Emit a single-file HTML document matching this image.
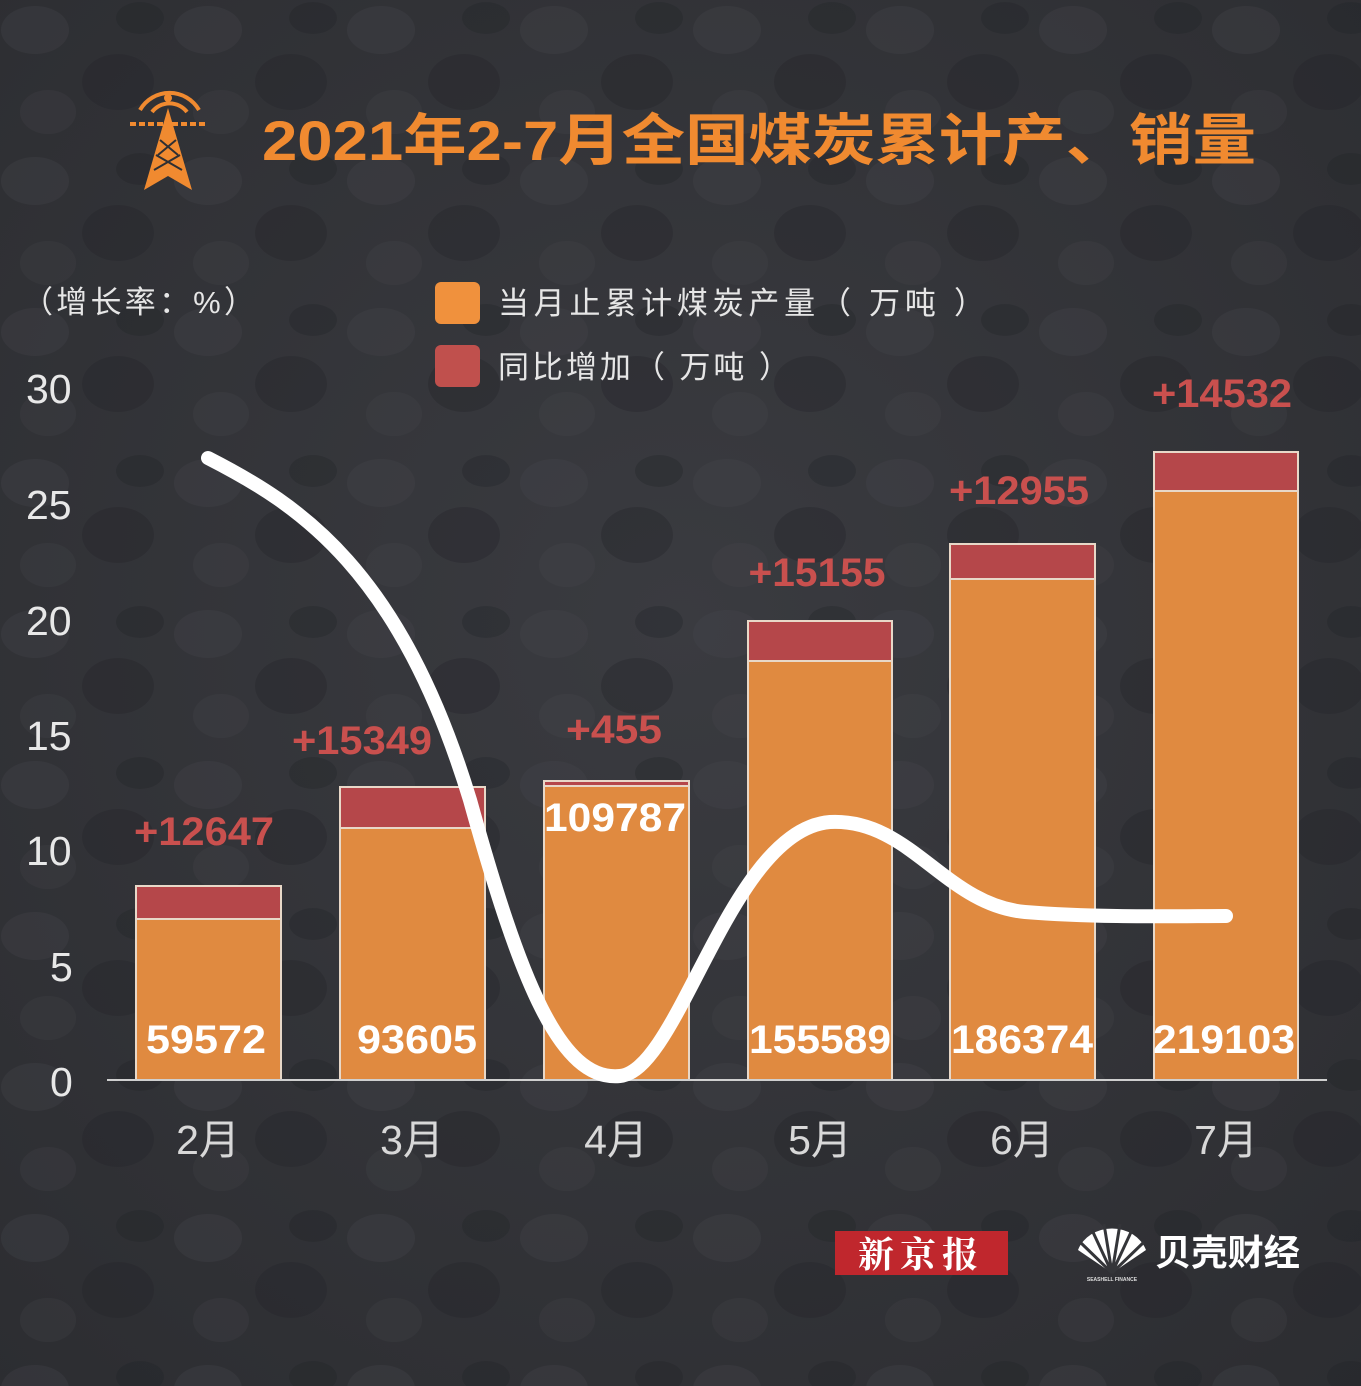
<!DOCTYPE html>
<html><head><meta charset="utf-8"><style>
html,body{margin:0;padding:0}
body{width:1361px;height:1386px;overflow:hidden;background:#343539}
svg{display:block}
</style></head><body>
<svg width="1361" height="1386" viewBox="0 0 1361 1386" xmlns="http://www.w3.org/2000/svg">
<defs>
<radialGradient id="bg" cx="50%" cy="45%" r="75%">
<stop offset="0" stop-color="#3a3b40"/><stop offset="1" stop-color="#2c2d31"/>
</radialGradient>
<pattern id="coal" width="173" height="151" patternUnits="userSpaceOnUse">
<ellipse cx="35" cy="30" rx="34" ry="24" fill="#45474c" opacity="0.3"/>
<ellipse cx="118" cy="82" rx="36" ry="28" fill="#222327" opacity="0.35"/>
<ellipse cx="48" cy="112" rx="28" ry="22" fill="#4a4c51" opacity="0.2"/>
<ellipse cx="140" cy="18" rx="24" ry="16" fill="#1f2024" opacity="0.3"/>
</pattern>
</defs>
<rect width="1361" height="1386" fill="url(#bg)"/>
<rect width="1361" height="1386" fill="url(#coal)"/>

<g fill="#f08a30" stroke="#f08a30">
<path d="M140 110 A34 34 0 0 1 199 110" fill="none" stroke-width="4"/>
<path d="M152 112 A22 22 0 0 1 187 112" fill="none" stroke-width="4"/>
<circle cx="168" cy="98" r="4" stroke="none"/>
<path d="M130 124 h35 M172 124 h35" stroke-width="4" stroke-dasharray="6 3"/>
<path d="M168 108 L144 190 L168 176 L192 190 Z" stroke="none"/>
</g>
<path d="M160 140 L178 155 M176 140 L158 155 M156 155 L182 170 M180 155 L154 170" stroke="#2e2f33" stroke-width="2"/>

<text x="262" y="160" font-family="Liberation Sans, Noto Sans CJK SC, sans-serif" font-size="56" font-weight="bold" fill="#f08a30" textLength="994" lengthAdjust="spacingAndGlyphs">2021年2-7月全国煤炭累计产、销量</text>

<g font-family="Liberation Sans, Noto Sans CJK SC, sans-serif" fill="#e6e6e6">
<text x="22" y="313" font-size="31" textLength="233" lengthAdjust="spacing">（增长率：%）</text>
<rect x="435" y="282" width="45" height="42" rx="6" fill="#f0913d"/>
<rect x="435" y="345" width="45" height="42" rx="6" fill="#c0504d"/>
<text x="498" y="314" font-size="31" textLength="487" lengthAdjust="spacing">当月止累计煤炭产量（ 万吨 ）</text>
<text x="498" y="378" font-size="31" textLength="292" lengthAdjust="spacing">同比增加（ 万吨 ）</text>
<g font-size="41" fill="#e8e8e8">
<text x="26" y="403">30</text><text x="26" y="519">25</text><text x="26" y="635">20</text>
<text x="26" y="750">15</text><text x="26" y="865">10</text><text x="50" y="981">5</text><text x="50" y="1096">0</text>
</g>
<g font-size="41" fill="#d8d8d8" text-anchor="middle">
<text x="208" y="1154">2月</text><text x="412" y="1154">3月</text><text x="616" y="1154">4月</text>
<text x="820" y="1154">5月</text><text x="1022" y="1154">6月</text><text x="1226" y="1154">7月</text>
</g>
</g>

<g stroke="#e8d8c8" stroke-width="2">
<rect x="136" y="886" width="145" height="194" fill="#e08a40"/>
<rect x="340" y="787" width="145" height="293" fill="#e08a40"/>
<rect x="544" y="781" width="145" height="299" fill="#e08a40"/>
<rect x="748" y="621" width="144" height="459" fill="#e08a40"/>
<rect x="950" y="544" width="145" height="536" fill="#e08a40"/>
<rect x="1154" y="452" width="144" height="628" fill="#e08a40"/>
</g>
<g fill="#b5474a" stroke="#e8d8c8" stroke-width="2">
<rect x="136" y="886" width="145" height="33"/>
<rect x="340" y="787" width="145" height="41"/>
<rect x="544" y="781" width="145" height="5"/>
<rect x="748" y="621" width="144" height="40"/>
<rect x="950" y="544" width="145" height="35"/>
<rect x="1154" y="452" width="144" height="39"/>
</g>
<line x1="107" y1="1080" x2="1327" y2="1080" stroke="#cfcfcf" stroke-width="2"/>

<path d="M208,458 C300,505 400,570 470,800 C520,980 560,1082 620,1076 C680,1070 730,830 830,822 C910,818 945,905 1025,912 C1100,918 1180,916 1226,916" fill="none" stroke="#fff" stroke-width="14" stroke-linecap="round"/>

<g font-family="Liberation Sans, sans-serif" font-weight="bold" font-size="40" text-anchor="middle" lengthAdjust="spacingAndGlyphs">
<g fill="#fff">
<text x="206" y="1053" textLength="120" lengthAdjust="spacingAndGlyphs">59572</text>
<text x="417" y="1053" textLength="120" lengthAdjust="spacingAndGlyphs">93605</text>
<text x="615" y="831" textLength="142" lengthAdjust="spacingAndGlyphs">109787</text>
<text x="820" y="1053" textLength="142" lengthAdjust="spacingAndGlyphs">155589</text>
<text x="1022" y="1053" textLength="142" lengthAdjust="spacingAndGlyphs">186374</text>
<text x="1224" y="1053" textLength="142" lengthAdjust="spacingAndGlyphs">219103</text>
</g>
<g fill="#c9504e">
<text x="204" y="845" textLength="140" lengthAdjust="spacingAndGlyphs">+12647</text>
<text x="362" y="754" textLength="140" lengthAdjust="spacingAndGlyphs">+15349</text>
<text x="614" y="743" textLength="96" lengthAdjust="spacingAndGlyphs">+455</text>
<text x="817" y="586" textLength="137" lengthAdjust="spacingAndGlyphs">+15155</text>
<text x="1019" y="504" textLength="140" lengthAdjust="spacingAndGlyphs">+12955</text>
<text x="1222" y="407" textLength="140" lengthAdjust="spacingAndGlyphs">+14532</text>
</g>
</g>

<rect x="835" y="1231" width="173" height="44" fill="#c0272d"/>
<text x="921" y="1267" text-anchor="middle" font-family="Noto Serif CJK SC, serif" font-weight="bold" font-size="36" fill="#fff" letter-spacing="6">新京报</text>
<path d="M1112 1273 L1078 1250 A36 32 0 0 1 1146 1250 Z" fill="#fff"/>
<g stroke="#343539" stroke-width="3">
<path d="M1112 1273 L1092 1230 M1112 1273 L1104 1224 M1112 1273 L1120 1224 M1112 1273 L1132 1230 M1112 1273 L1080 1242 M1112 1273 L1144 1242"/>
</g>
<text x="1112" y="1281" text-anchor="middle" font-family="Liberation Sans, sans-serif" font-size="5" font-weight="bold" fill="#ddd">SEASHELL FINANCE</text>
<text x="1155" y="1265" font-family="Liberation Sans, Noto Sans CJK SC, sans-serif" font-weight="bold" font-size="36" fill="#fff" textLength="145" lengthAdjust="spacingAndGlyphs">贝壳财经</text>
</svg>
</body></html>
